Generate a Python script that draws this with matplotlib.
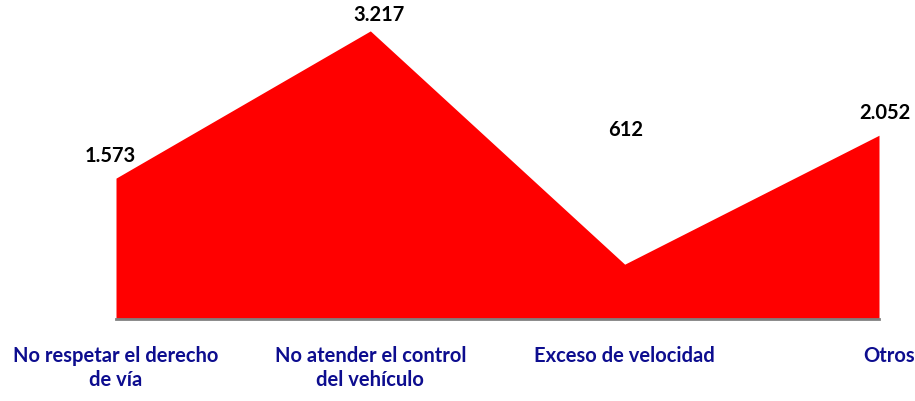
import numpy as np
import matplotlib.pyplot as plt
import matplotlib.transforms as mtransforms

categories = ['No respetar el derecho\nde vía', 'No atender el control\ndel vehículo',
              'Exceso de velocidad', 'Otros']
values = [1573, 3217, 612, 2052]
value_labels = ['1.573', '3.217', '612', '2.052']

# label offsets in points (dx, dy) from each point
label_offsets = [(-4, 17), (6, 12), (1, 97), (4, 17)]

plt.rcParams['font.family'] = ['Lato', 'DejaVu Sans']

fig = plt.figure(figsize=(9.15, 4.02), dpi=100)
ax = fig.add_axes([116 / 915, 82 / 402, 763 / 915, 300 / 402])

x = np.arange(len(values))
ax.fill_between(x, values, 0, color='#FF0000', linewidth=0)
ax.set_xlim(0, len(values) - 1)
ax.set_ylim(0, 3350)

for xi, v, lab, (dx, dy) in zip(x, values, value_labels, label_offsets):
    ax.annotate(lab, (xi, v), xytext=(dx, dy), textcoords='offset points',
                ha='center', va='center', fontsize=14.5, fontweight='bold', color='black')

for s in ['top', 'right', 'left']:
    ax.spines[s].set_visible(False)
ax.spines['bottom'].set_color('#808080')
ax.spines['bottom'].set_linewidth(2)
ax.set_yticks([])
ax.set_xticks(x)
ax.set_xticklabels(categories, fontsize=14.5, fontweight='bold', color='#0D0D8F',
                   linespacing=1.2)
ax.tick_params(axis='x', length=0, pad=19)

# last label sits a little right of its point in the original
last = ax.get_xticklabels()[-1]
last.set_transform(last.get_transform() + mtransforms.ScaledTranslation(7 / 72, 0, fig.dpi_scale_trans))

fig.savefig('out.png', dpi=100)
